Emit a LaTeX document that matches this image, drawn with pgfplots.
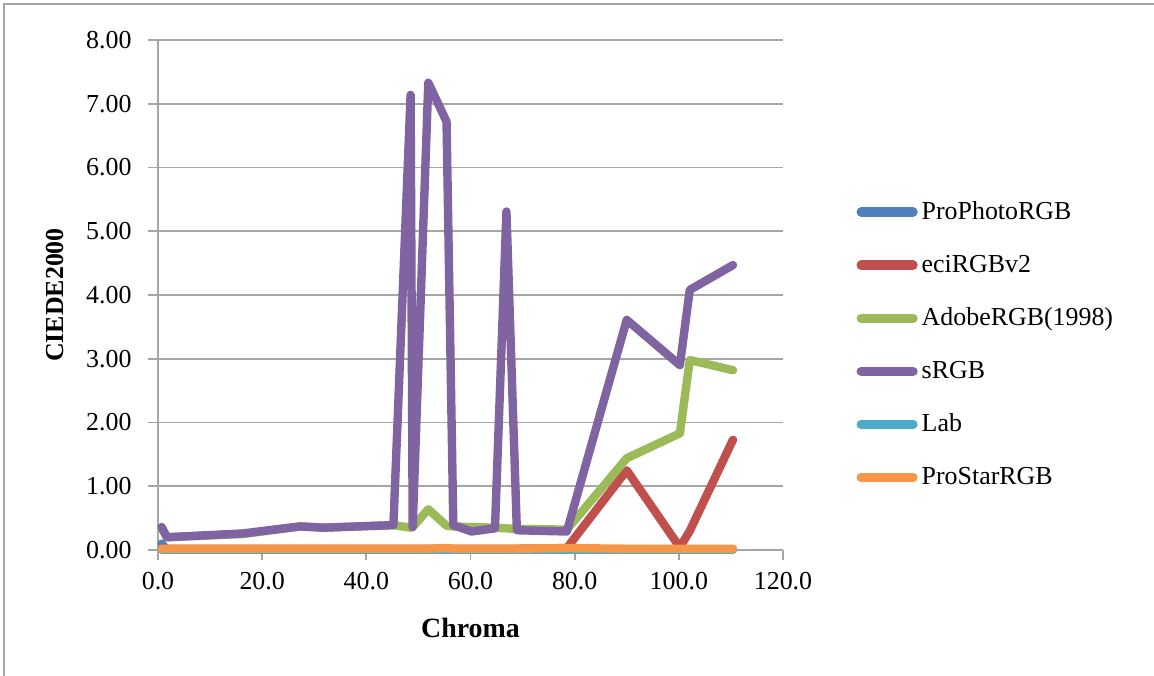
\documentclass[border=0pt]{standalone}
\usepackage{pgfplots}
\pgfplotsset{compat=1.18}
\usepackage{fontspec}
\setmainfont{Liberation Serif}
\definecolor{cBlue}{HTML}{4F81BD}
\definecolor{cRed}{HTML}{C0504D}
\definecolor{cGreen}{HTML}{9BBB59}
\definecolor{cPurple}{HTML}{8064A2}
\definecolor{cAqua}{HTML}{4BACC6}
\definecolor{cOrange}{HTML}{F79646}
\definecolor{gridgray}{HTML}{A6A6A6}
\begin{document}
\begin{tikzpicture}
\begin{axis}[
  at={(0,0)}, anchor=south west,
  scale only axis, width=312.5bp, height=255bp,
  xmin=0, xmax=120, ymin=0, ymax=8,
  xtick={0,20,...,120}, ytick={0,1,...,8},
  axis x line*=bottom, axis y line*=left,
  axis line style={gridgray, line width=0.9bp},
  ymajorgrids, grid style={gridgray, line width=0.9bp},
  tick style={gridgray, line width=0.9bp},
  tick align=outside, major tick length=5bp,
  /pgf/number format/assume math mode=true,
  xticklabel={\pgfmathprintnumber[fixed,fixed zerofill,precision=1]{\tick}},
  yticklabel={\pgfmathprintnumber[fixed,fixed zerofill,precision=2]{\tick}},
  ticklabel style={font=\fontsize{13}{15}\selectfont},
  xticklabel style={yshift=-2.5bp},
  yticklabel style={xshift=-4.7bp},
  xlabel={\textbf{Chroma}},
  ylabel={\textbf{CIEDE2000}},
  xlabel style={at={(rel axis cs:0.5,0)}, anchor=center, yshift=-39bp, font=\fontsize{14}{16}\selectfont},
  ylabel style={at={(rel axis cs:0,0.5)}, anchor=center, yshift=51.5bp, font=\fontsize{13}{15}\selectfont},
  legend style={draw=none, fill=none, at={(rel axis cs:1.117,0.692)}, anchor=north west,
    font=\fontsize{13}{15}\selectfont, row sep=12.3bp, inner sep=0pt,
    /tikz/every even column/.append style={column sep=0bp}},
  legend cell align=left,
  legend image code/.code={\draw[line width=4.6bp, line cap=round] (0bp,0bp) -- (26bp,0bp);},
  every axis plot/.append style={line width=4.2bp, line cap=round, line join=round},
  clip=false,
]
% ProPhotoRGB
\addplot[cBlue] coordinates {(0.7,0.10)(1.7,0.01)(16.3,0.01)(27.3,0.01)(31.7,0.01)(45.2,0.01)(48.5,0.01)(48.9,0.01)(51.9,0.01)(55.4,0.01)(56.7,0.01)(60.2,0.01)(64.7,0.01)(66.9,0.01)(68.9,0.01)(78.5,0.01)(90.0,0.01)(100.2,0.01)(102.1,0.01)(110.4,0.01)};
\addlegendentry{ProPhotoRGB}
% eciRGBv2
\addplot[cRed] coordinates {(0.7,0.02)(1.7,0.02)(16.3,0.02)(27.3,0.02)(31.7,0.02)(45.2,0.02)(48.5,0.02)(48.9,0.02)(51.9,0.02)(55.4,0.02)(56.7,0.02)(60.2,0.02)(64.7,0.02)(66.9,0.02)(68.9,0.02)(78.5,0.03)(90.0,1.25)(100.2,0.04)(102.1,0.30)(110.4,1.73)};
\addlegendentry{eciRGBv2}
% AdobeRGB(1998)
\addplot[cGreen] coordinates {(0.7,0.35)(1.7,0.20)(16.3,0.25)(27.3,0.37)(31.7,0.35)(45.2,0.39)(48.5,0.35)(48.9,0.36)(51.9,0.64)(55.4,0.38)(56.7,0.37)(60.2,0.36)(64.7,0.35)(66.9,0.34)(68.9,0.33)(78.5,0.32)(90.0,1.44)(100.2,1.83)(102.1,2.98)(110.4,2.82)};
\addlegendentry{AdobeRGB(1998)}
% sRGB
\addplot[cPurple] coordinates {(0.7,0.36)(1.7,0.20)(16.3,0.26)(27.3,0.37)(31.7,0.35)(45.2,0.39)(48.5,7.14)(48.9,0.36)(51.9,7.33)(55.4,6.72)(56.7,0.39)(60.2,0.29)(64.7,0.34)(66.9,5.31)(68.9,0.31)(78.5,0.29)(90.0,3.61)(100.2,2.90)(102.1,4.08)(110.4,4.47)};
\addlegendentry{sRGB}
% Lab
\addplot[cAqua] coordinates {(0.7,0.01)(1.7,0.01)(16.3,0.01)(27.3,0.01)(31.7,0.01)(45.2,0.01)(48.5,0.01)(48.9,0.01)(51.9,0.01)(55.4,0.01)(56.7,0.01)(60.2,0.01)(64.7,0.01)(66.9,0.01)(68.9,0.01)(78.5,0.01)(90.0,0.01)(100.2,0.01)(102.1,0.01)(110.4,0.01)};
\addlegendentry{Lab}
% ProStarRGB
\addplot[cOrange] coordinates {(0.7,0.02)(1.7,0.02)(16.3,0.02)(27.3,0.02)(31.7,0.02)(45.2,0.02)(48.5,0.02)(48.9,0.02)(51.9,0.02)(55.4,0.03)(56.7,0.02)(60.2,0.02)(64.7,0.02)(66.9,0.02)(68.9,0.02)(78.5,0.03)(90.0,0.02)(100.2,0.02)(102.1,0.02)(110.4,0.02)};
\addlegendentry{ProStarRGB}
\end{axis}
\draw[gridgray, line width=0.9bp] (-77bp,-63bp) -- (-77bp,273bp) -- (498bp,273bp);
\pgfresetboundingbox
\path (-79bp,-63bp) rectangle (498bp,275bp);
\end{tikzpicture}
\end{document}
